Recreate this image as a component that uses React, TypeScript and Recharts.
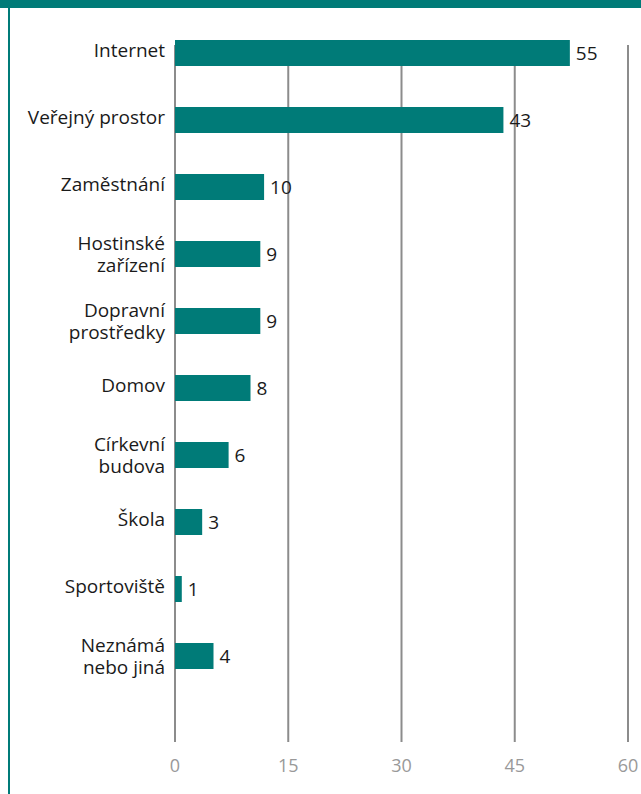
import { BarChart, Bar, XAxis, YAxis, CartesianGrid, LabelList } from 'recharts';

const places = [
  'Internet',
  'Veřejný prostor',
  'Zaměstnání',
  'Hostinské\nzařízení',
  'Dopravní\nprostředky',
  'Domov',
  'Církevní\nbudova',
  'Škola',
  'Sportoviště',
  'Neznámá\nnebo jiná',
];
// numbers printed next to the bars
const printedShares = [55, 43, 10, 9, 9, 8, 6, 3, 1, 4];
// bar lengths as drawn in the source (they don't quite match the printed numbers)
const barLengths = [52.3, 43.5, 11.8, 11.3, 11.3, 10.0, 7.1, 3.6, 0.9, 5.1];
const xTicks = [0, 15, 30, 45, 60];

const data = places.map((place, i) => ({
  place,
  length: barLengths[i],
  printed: printedShares[i],
}));

const TEAL = '#007b78';
const FONT = '"Open Sans", "Noto Sans", sans-serif';

const PlaceTick = ({ x, y, payload }: any) => {
  const lines = String(payload.value).split('\n');
  const base = lines.length > 1 ? 7 : 4;
  return (
    <text x={x} y={y} textAnchor="end" fill="#1a1a1a" fontSize={19} fontFamily={FONT}>
      {lines.map((line, k) => (
        <tspan key={k} x={x} y={y + base + (k - (lines.length - 1) / 2) * 22}>
          {line}
        </tspan>
      ))}
    </text>
  );
};

export default function App() {
  return (
    <div style={{ position: 'absolute', left: 0, top: 0, width: 641, height: 794, background: '#fff' }}>
      <div style={{ position: 'absolute', left: 0, top: 0, width: 641, height: 8, background: TEAL }} />
      <div style={{ position: 'absolute', left: 8, top: 0, width: 2, height: 794, background: TEAL }} />
      <div style={{ position: 'absolute', left: 0, top: 0 }}>
        <BarChart
          width={641}
          height={794}
          data={data}
          layout="vertical"
          margin={{ top: 19, right: 13, left: 0, bottom: 65 }}
          style={{ fontFamily: FONT }}
        >
          <CartesianGrid
            horizontal={false}
            stroke="#8c8c8c"
            strokeWidth={2}
            y={45}
            height={697}
          />
          <XAxis
            type="number"
            domain={[0, 60]}
            ticks={xTicks}
            axisLine={false}
            tickLine={false}
            height={40}
            tickMargin={64}
            tick={{ fill: '#999999', fontSize: 18, fontFamily: FONT }}
          />
          <YAxis
            type="category"
            dataKey="place"
            width={175}
            interval={0}
            axisLine={false}
            tickLine={false}
            tickMargin={4}
            tick={<PlaceTick />}
          />
          <Bar dataKey="length" fill={TEAL} barSize={26} isAnimationActive={false}>
            <LabelList
              dataKey="printed"
              position="right"
              offset={6}
              fill="#1a1a1a"
              fontSize={19}
              fontFamily={FONT}
            />
          </Bar>
        </BarChart>
      </div>
    </div>
  );
}
